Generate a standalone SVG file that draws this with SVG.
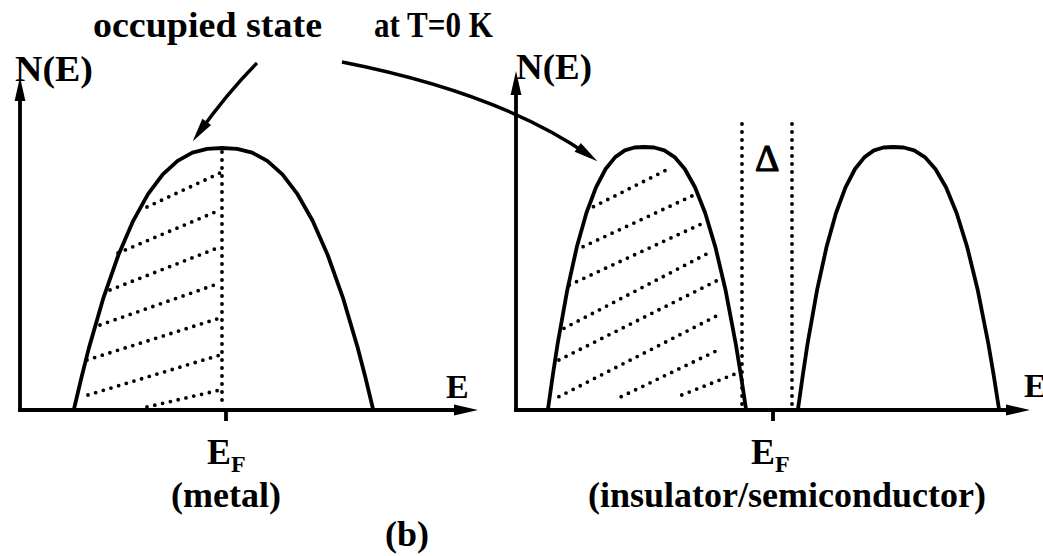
<svg xmlns="http://www.w3.org/2000/svg" width="1043" height="556" viewBox="0 0 1043 556">
<defs>
<style>
.t{font-family:"Liberation Serif","Times New Roman",serif;font-weight:bold;fill:#000;}
.ax{fill:none;stroke:#000;stroke-width:3.8;}
.cv{fill:none;stroke:#000;stroke-width:3.8;stroke-linejoin:round;stroke-linecap:round;}
.dot{fill:none;stroke:#000;stroke-width:3.8;stroke-linecap:round;stroke-dasharray:0 8;}
.con{fill:none;stroke:#000;stroke-width:3.4;}
</style>
<marker id="ah" viewBox="-16 -6 26 12" refX="0" refY="0" markerWidth="26" markerHeight="12" markerUnits="userSpaceOnUse" orient="auto">
<path d="M9,0 L-15,-5.4 L-15,5.4 Z" fill="#000"/>
</marker>
</defs>
<rect width="1043" height="556" fill="#fff"/>

<g id="label-occupied"><text class="t" x="93" y="37" font-size="36" textLength="229" lengthAdjust="spacingAndGlyphs">occupied state</text></g>
<g id="label-T0"><text class="t" x="374" y="37" font-size="36" textLength="119" lengthAdjust="spacingAndGlyphs">at T=0 K</text></g>

<g id="panel-metal">
<path class="ax" d="M20,410 L20,86" marker-end="url(#ah)"/>
<path class="ax" d="M18,410 L469,410" marker-end="url(#ah)"/>
<path class="ax" d="M226,410 L226,421"/>
<text class="t" x="15" y="81" font-size="36" textLength="78" lengthAdjust="spacingAndGlyphs">N(E)</text>
<text class="t" x="446" y="398" font-size="34">E</text>
<polyline class="cv" points="74,409 81.4,377.7 88.8,348.4 103.6,297.3 118.4,255 133.2,220.8 148,194.2 162.8,174.4 177.6,160.9 192.4,152.7 207.2,148.8 222,148 237.1,148.8 252.2,152.7 267.3,160.9 282.4,174.4 297.5,194.2 312.6,220.8 327.7,255 342.8,297.3 357.9,348.4 365.5,377.7 373,409"/>
<path class="dot" d="M222,152 L222,408"/>
<path class="dot" d="M147,207 L220,173 M118,253 L220,210 M110,290 L220,247 M100,325 L220,283 M87,360 L220,318 M88,395 L220,355 M147,407 L220,390"/>
<text class="t" x="207" y="464" font-size="36">E<tspan font-size="24" dy="8">F</tspan></text>
<text class="t" x="226" y="507" font-size="36" text-anchor="middle">(metal)</text>
</g>

<g id="panel-insulator">
<path class="ax" d="M516,410 L516,80" marker-end="url(#ah)"/>
<path class="ax" d="M514,410 L1021,410" marker-end="url(#ah)"/>
<path class="ax" d="M773,410 L773,421"/>
<text class="t" x="516" y="79" font-size="36" textLength="76" lengthAdjust="spacingAndGlyphs">N(E)</text>
<text class="t" x="1024" y="397" font-size="34">E</text>
<polyline class="cv" points="548,409 552.8,375.2 557.6,344 567.2,290.3 576.8,247.1 586.4,213 596,187.3 605.6,169 615.2,157.1 624.8,150.4 634.4,147.5 644,147 654.2,147.5 664.4,150.4 674.6,157.1 684.8,169 695,187.3 705.2,213 715.4,247.1 725.6,290.3 735.8,344 740.9,375.2 746,409"/>
<polyline class="cv" points="798,409 802.8,375.2 807.5,344 817,290.3 826.5,247.1 836,213 845.5,187.3 855,169 864.5,157.1 874,150.4 883.5,147.5 893,147 903.6,147.5 914.2,150.4 924.8,157.1 935.4,169 946,187.3 956.6,213 967.2,247.1 977.8,290.3 988.4,344 993.7,375.2 999,409"/>
<path class="dot" d="M742,124 L742,408 M792,124 L792,408"/>
<path class="dot" d="M593.5,206.7 L666.3,170 M583.1,246.7 L694,195 M569.3,285 L706.1,221.7 M564,328.3 L707.8,253.3 M558.9,360 L718.2,280 M558.9,396.7 L721.7,313.3 M621.2,396.7 L721.7,348.3 M681.8,395 L740,372"/>
<text class="t" x="755" y="171" font-size="38" style="font-weight:normal" stroke="#000" stroke-width="1.2">Δ</text>
<text class="t" x="751" y="464" font-size="36">E<tspan font-size="24" dy="8">F</tspan></text>
<text class="t" x="787" y="507" font-size="36" text-anchor="middle">(insulator/semiconductor)</text>
</g>

<g id="connectors">
<path class="con" d="M257,63 Q228,92 198,134" marker-end="url(#ah)"/>
<path class="con" d="M342,62 Q500,93 590,156" marker-end="url(#ah)"/>
</g>

<g id="caption"><text class="t" x="407" y="546" font-size="36" text-anchor="middle">(b)</text></g>
</svg>
